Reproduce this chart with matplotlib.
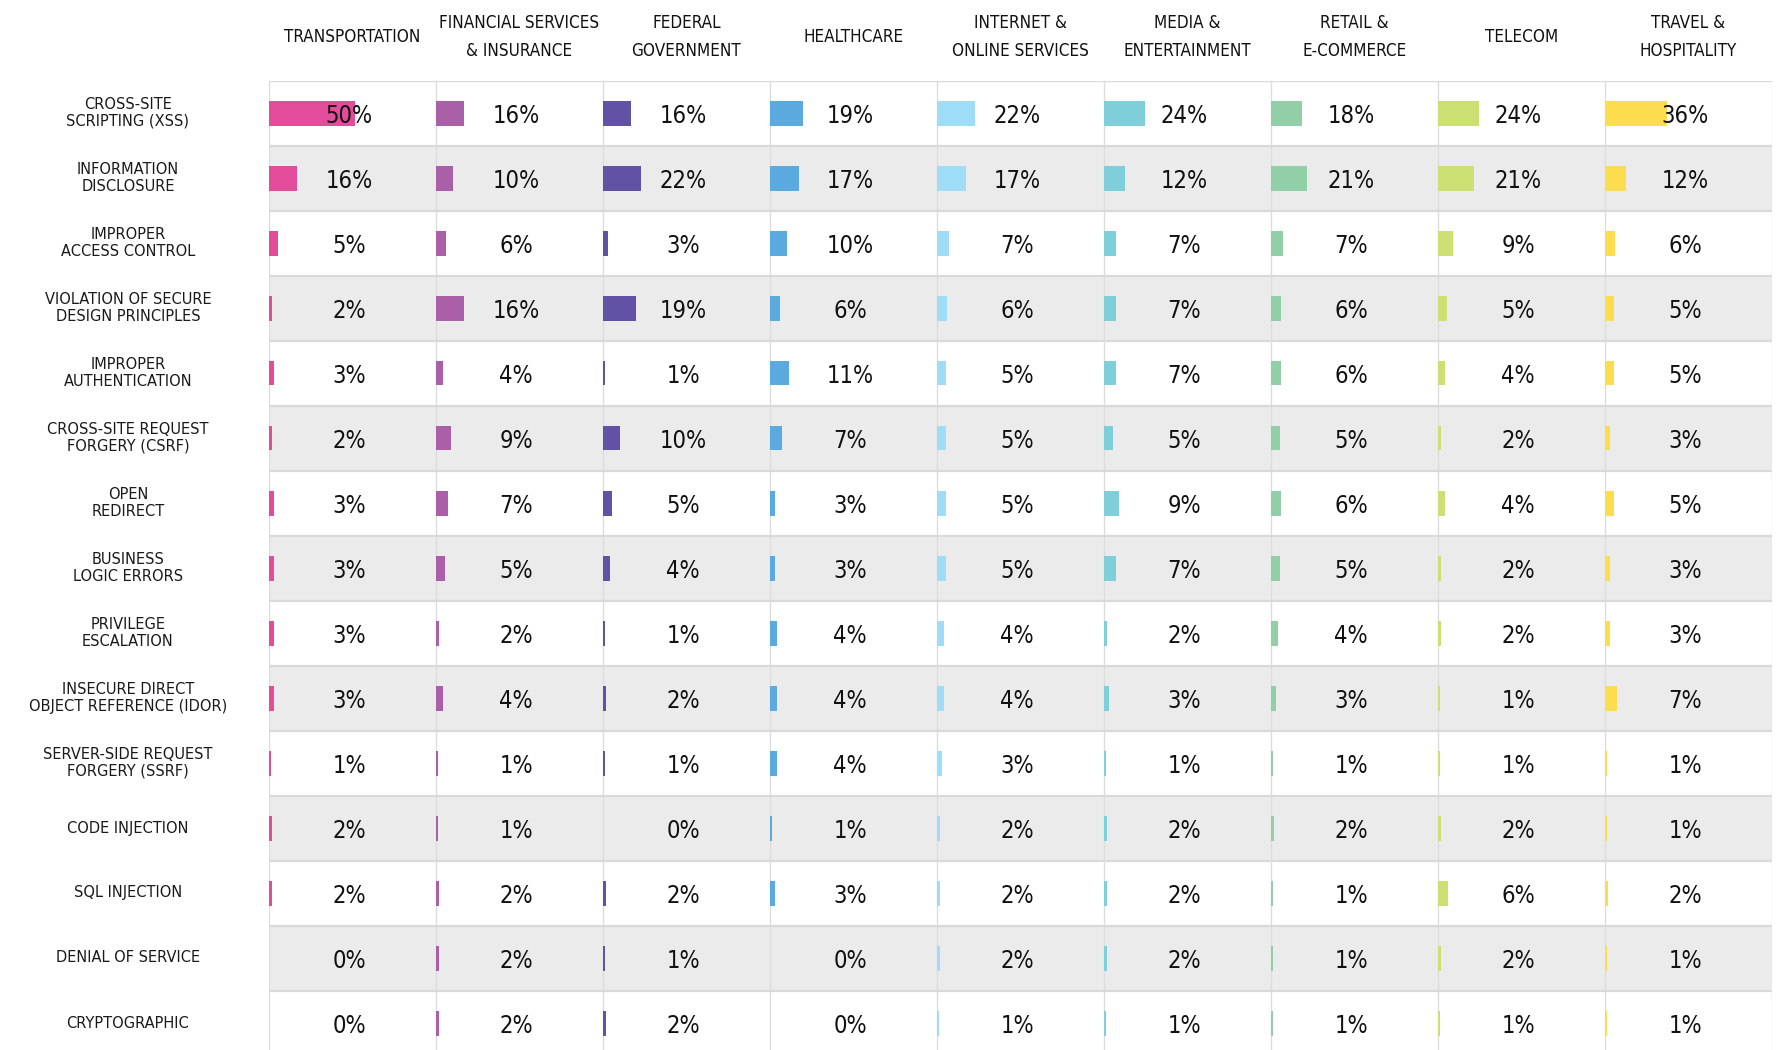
import numpy as np
import matplotlib.pyplot as plt
from matplotlib import font_manager
from matplotlib.font_manager import FontProperties

# industries (columns) and vulnerability types (rows)
industries = ['TRANSPORTATION', 'FINANCIAL SERVICES\n& INSURANCE', 'FEDERAL\nGOVERNMENT',
              'HEALTHCARE', 'INTERNET &\nONLINE SERVICES', 'MEDIA &\nENTERTAINMENT',
              'RETAIL &\nE-COMMERCE', 'TELECOM', 'TRAVEL &\nHOSPITALITY']
vulns = ['CROSS-SITE\nSCRIPTING (XSS)', 'INFORMATION\nDISCLOSURE', 'IMPROPER\nACCESS CONTROL',
         'VIOLATION OF SECURE\nDESIGN PRINCIPLES', 'IMPROPER\nAUTHENTICATION',
         'CROSS-SITE REQUEST\nFORGERY (CSRF)', 'OPEN\nREDIRECT', 'BUSINESS\nLOGIC ERRORS',
         'PRIVILEGE\nESCALATION', 'INSECURE DIRECT\nOBJECT REFERENCE (IDOR)',
         'SERVER-SIDE REQUEST\nFORGERY (SSRF)', 'CODE INJECTION', 'SQL INJECTION',
         'DENIAL OF SERVICE', 'CRYPTOGRAPHIC']

# percent of reports, one list per row, in column order
xss        = [50, 16, 16, 19, 22, 24, 18, 24, 36]
info_disc  = [16, 10, 22, 17, 17, 12, 21, 21, 12]
access     = [5, 6, 3, 10, 7, 7, 7, 9, 6]
design     = [2, 16, 19, 6, 6, 7, 6, 5, 5]
auth       = [3, 4, 1, 11, 5, 7, 6, 4, 5]
csrf       = [2, 9, 10, 7, 5, 5, 5, 2, 3]
redirect   = [3, 7, 5, 3, 5, 9, 6, 4, 5]
logic      = [3, 5, 4, 3, 5, 7, 5, 2, 3]
privesc    = [3, 2, 1, 4, 4, 2, 4, 2, 3]
idor       = [3, 4, 2, 4, 4, 3, 3, 1, 7]
ssrf       = [1, 1, 1, 4, 3, 1, 1, 1, 1]
code_inj   = [2, 1, 0, 1, 2, 2, 2, 2, 1]
sql_inj    = [2, 2, 2, 3, 2, 2, 1, 6, 2]
dos        = [0, 2, 1, 0, 2, 2, 1, 2, 1]
crypto     = [0, 2, 2, 0, 1, 1, 1, 1, 1]

colors = ['#E24C9B', '#AA5FA8', '#6252A6', '#5AAADF', '#9FDCF7',
          '#7ECFD9', '#90CFA8', '#CBDF72', '#FCDD4E']

data = np.array([xss, info_disc, access, design, auth, csrf, redirect, logic,
                 privesc, idor, ssrf, code_inj, sql_inj, dos, crypto])


# look for a narrow / condensed sans, else plain DejaVu Sans
def pick_narrow():
    ranks = {'ultra-condensed': 1, 'extra-condensed': 2, 'condensed': 3, 'semi-condensed': 4}
    best = None
    for f in font_manager.fontManager.ttflist:
        r = ranks.get(f.stretch) if isinstance(f.stretch, str) else (f.stretch / 100 if f.stretch < 500 else None)
        if 'Narrow' in f.name or 'Condensed' in f.name:
            r = 3
        if r is None or f.style != 'normal' or 'Mono' in f.name or 'Serif' in f.name:
            continue
        w = f.weight if isinstance(f.weight, (int, float)) else font_manager.weight_dict.get(f.weight, 400)
        if w < 350 or w > 520:
            continue
        key = (r, abs(w - 400))
        if best is None or key < best[0]:
            best = (key, f)
    if best:
        return FontProperties(fname=best[1].fname)
    return FontProperties(family='DejaVu Sans')


narrow = pick_narrow()

W, H = 1779, 1050
left, top, colw, rowh = 269, 80.5, 167, 65
nrow, ncol = data.shape

fig = plt.figure(figsize=(W / 100, H / 100), dpi=100)
ax = fig.add_axes([left / W, (H - top - nrow * rowh) / H, ncol * colw / W, nrow * rowh / H])
ax.set_xlim(0, ncol)
ax.set_ylim(nrow, 0)
ax.axis('off')

# header size: as large as the reference but the widest line must fit in a column
renderer = fig.canvas.get_renderer()
probe = [fig.text(0, 0, line, fontproperties=narrow, fontsize=20)
         for name in industries for line in name.split('\n')]
widest = max(t.get_window_extent(renderer).width for t in probe)
for t in probe:
    t.remove()
hsize = min(20, 20 * 160 / widest)
hspacing = 29 / (hsize * 100 / 72)

# striped rows + grid
for i in range(nrow):
    if i % 2 == 1:
        ax.axhspan(i, i + 1, color='#EBEBEB', zorder=0, lw=0)
ax.vlines(range(ncol + 1), 0, nrow, color='#DCDCDC', lw=1, zorder=1)
ax.hlines(range(nrow + 1), 0, ncol, color='#D9D9D9', lw=1.6, zorder=1)

pxper = 1.72 / colw  # one percent in column units
for j in range(ncol):
    vals = data[:, j]
    ax.barh(np.arange(nrow) + 0.5, vals * pxper, left=j, height=25 / rowh,
            color=colors[j], zorder=2)
    for i, v in enumerate(vals):
        ax.text(j + 0.48, i + 0.55, f'{v}%', ha='center', va='center',
                fontproperties=narrow, fontsize=17, color='#111111', zorder=3)
    ax.text(j + 0.5, -0.67, industries[j], ha='center', va='center', fontproperties=narrow,
            fontsize=hsize, linespacing=hspacing, color='#111111', clip_on=False)

for i, lab in enumerate(vulns):
    ax.text(-0.845, i + 0.5, lab, ha='center', va='center', fontsize=10.5,
            family='DejaVu Sans', linespacing=1.1, color='#1A1A1A', clip_on=False)

fig.savefig('out.png', dpi=100)
